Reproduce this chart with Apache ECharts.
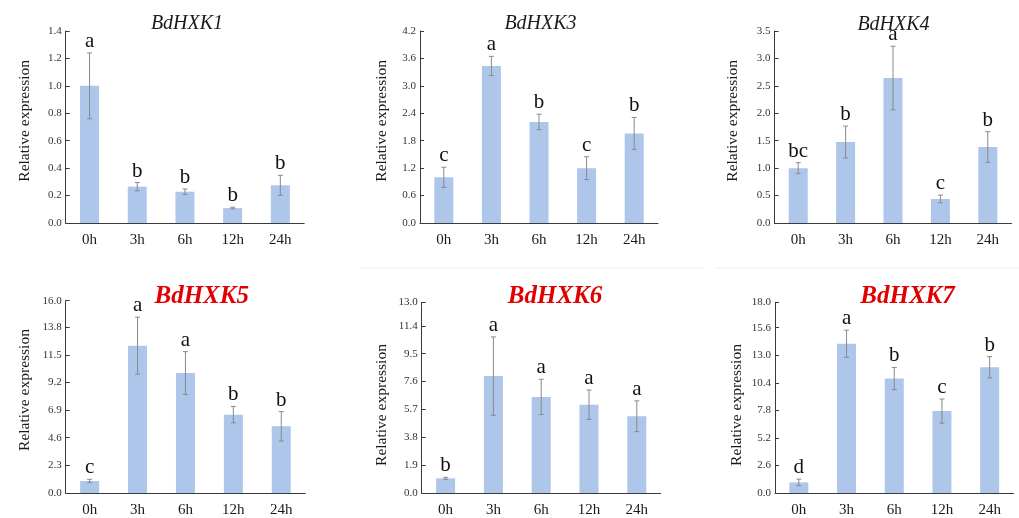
<!DOCTYPE html>
<html>
<head>
<meta charset="utf-8">
<script src="https://cdn.jsdelivr.net/npm/echarts@6/dist/echarts.min.js"></script>
<style>
  html, body { margin: 0; padding: 0; background: #ffffff; }
  #chart { width: 1019px; height: 518px; }
</style>
</head>
<body>
<div id="chart"></div>
<script>
// Sampling time points after treatment
const categories = ['0h', '3h', '6h', '12h', '24h'];
const geneNames = ['BdHXK1', 'BdHXK3', 'BdHXK4', 'BdHXK5', 'BdHXK6', 'BdHXK7'];

// Relative expression (mean), standard deviation and significance letters per gene
const hxk1Mean = [1.0, 0.265, 0.228, 0.109, 0.275];
const hxk1Err  = [0.24, 0.03, 0.02, 0.006, 0.073];
const hxk1Sig  = ['a', 'b', 'b', 'b', 'b'];

const hxk3Mean = [1.0, 3.435, 2.21, 1.2, 1.96];
const hxk3Err  = [0.22, 0.21, 0.17, 0.25, 0.35];
const hxk3Sig  = ['c', 'a', 'b', 'c', 'b'];

const hxk4Mean = [1.0, 1.476, 2.643, 0.438, 1.385];
const hxk4Err  = [0.1, 0.29, 0.58, 0.07, 0.28];
const hxk4Sig  = ['bc', 'b', 'a', 'c', 'b'];

const hxk5Mean = [1.0, 12.26, 9.98, 6.52, 5.55];
const hxk5Err  = [0.14, 2.37, 1.78, 0.68, 1.22];
const hxk5Sig  = ['c', 'a', 'a', 'b', 'b'];

const hxk6Mean = [1.0, 7.97, 6.55, 6.02, 5.23];
const hxk6Err  = [0.07, 2.67, 1.2, 1.0, 1.05];
const hxk6Sig  = ['b', 'a', 'a', 'a', 'a'];

const hxk7Mean = [1.0, 14.09, 10.8, 7.73, 11.87];
const hxk7Err  = [0.31, 1.28, 1.05, 1.14, 1.0];
const hxk7Sig  = ['d', 'a', 'b', 'c', 'b'];

// Y axis range and tick step per panel
const yMax  = [1.4, 4.2, 3.5, 16, 13, 18];
const yStep = [0.2, 0.6, 0.5, 2.3, 1.9, 2.6];

const yName = 'Relative expression';

const means = [hxk1Mean, hxk3Mean, hxk4Mean, hxk5Mean, hxk6Mean, hxk7Mean];
const errs  = [hxk1Err, hxk3Err, hxk4Err, hxk5Err, hxk6Err, hxk7Err];
const sigs  = [hxk1Sig, hxk3Sig, hxk4Sig, hxk5Sig, hxk6Sig, hxk7Sig];

// Layout of the six plot areas (pixels)
const grids = [
  { left: 65.7,  top: 31,    width: 238.5, height: 192 },
  { left: 420,   top: 31,    width: 238,   height: 192 },
  { left: 774.5, top: 31,    width: 237,   height: 192 },
  { left: 65.7,  top: 300.7, width: 239.5, height: 192.3 },
  { left: 421.7, top: 302.3, width: 239,   height: 191.4 },
  { left: 775,   top: 302.3, width: 238.5, height: 191.7 }
];
// Title centres and style
const titlePos = [[187, 24], [540.5, 24], [893.5, 24.4], [201.7, 296.2], [555, 296.2], [907.5, 296.2]];
const titleRed = [false, false, false, true, true, true];
// Y axis name centres
const yNamePos = [[25, 120.8], [381.7, 120.8], [733.3, 120.8], [25, 390], [381.7, 405], [736.7, 405]];

const SERIF = "'Times New Roman', 'Liberation Serif', 'DejaVu Serif', serif";
const AXIS_COLOR = '#3a3a3a';
const BAR_COLOR = '#adc6ea';
const ERR_COLOR = '#8a8a8a';

const option = {
  animation: false,
  backgroundColor: '#ffffff',
  grid: grids.map(g => Object.assign({ containLabel: false }, g)),
  xAxis: grids.map((g, i) => ({
    type: 'category',
    gridIndex: i,
    data: categories,
    boundaryGap: true,
    axisLine: { lineStyle: { color: AXIS_COLOR, width: 1 } },
    axisTick: { show: true, inside: true, alignWithLabel: true, length: 3, lineStyle: { color: AXIS_COLOR } },
    axisLabel: { color: '#1a1a1a', fontFamily: SERIF, fontSize: 15, margin: 10 },
    splitLine: { show: false }
  })),
  yAxis: grids.map((g, i) => ({
    type: 'value',
    gridIndex: i,
    min: 0,
    max: yMax[i],
    interval: yStep[i],
    axisLine: { show: true, lineStyle: { color: AXIS_COLOR, width: 1 } },
    axisTick: { show: true, inside: true, length: 4, lineStyle: { color: AXIS_COLOR } },
    axisLabel: {
      color: '#333333', fontFamily: SERIF, fontSize: 11, margin: 4,
      showMinLabel: true, showMaxLabel: true,
      formatter: v => v.toFixed(1)
    },
    splitLine: { show: false }
  })),
  graphic: [
    // faint separator rule between the two rows
    { type: 'line', shape: { x1: 360, y1: 268, x2: 703, y2: 268 }, style: { stroke: '#efefef', lineWidth: 1 } },
    { type: 'line', shape: { x1: 715, y1: 268, x2: 1019, y2: 268 }, style: { stroke: '#efefef', lineWidth: 1 } }
  ].concat(geneNames.map((name, i) => ({
    type: 'text',
    x: titlePos[i][0],
    y: titlePos[i][1],
    style: {
      text: name,
      align: 'center',
      verticalAlign: 'middle',
      fontFamily: SERIF,
      fontStyle: 'italic',
      fontWeight: titleRed[i] ? 'bold' : 'normal',
      fontSize: titleRed[i] ? 25 : 20,
      fill: titleRed[i] ? '#e10000' : '#1a1a1a'
    }
  }))).concat(yNamePos.map(p => ({
    type: 'text',
    x: p[0],
    y: p[1],
    rotation: Math.PI / 2,
    style: {
      text: yName,
      align: 'center',
      verticalAlign: 'middle',
      fontFamily: SERIF,
      fontSize: 15.5,
      fill: '#1a1a1a'
    }
  }))),
  series: []
};

means.forEach((m, i) => {
  option.series.push({
    type: 'bar',
    xAxisIndex: i,
    yAxisIndex: i,
    data: m,
    barWidth: 19,
    itemStyle: { color: BAR_COLOR },
    silent: true
  });
  const sig = sigs[i];
  option.series.push({
    type: 'custom',
    xAxisIndex: i,
    yAxisIndex: i,
    data: m.map((v, k) => [k, v, errs[i][k]]),
    encode: { x: 0, y: 1 },
    clip: false,
    silent: true,
    z: 3,
    renderItem: (params, api) => {
      const k = api.value(0);
      const v = api.value(1);
      const e = api.value(2);
      const top = api.coord([k, v + e]);
      const bot = api.coord([k, v - e]);
      const cap = 2.5;
      return {
        type: 'group',
        children: [
          { type: 'line', shape: { x1: top[0], y1: top[1], x2: bot[0], y2: bot[1] }, style: { stroke: ERR_COLOR, lineWidth: 1 } },
          { type: 'line', shape: { x1: top[0] - cap, y1: top[1], x2: top[0] + cap, y2: top[1] }, style: { stroke: ERR_COLOR, lineWidth: 1 } },
          { type: 'line', shape: { x1: bot[0] - cap, y1: bot[1], x2: bot[0] + cap, y2: bot[1] }, style: { stroke: ERR_COLOR, lineWidth: 1 } },
          {
            type: 'text',
            x: top[0],
            y: top[1] - 1,
            style: {
              text: sig[params.dataIndex],
              align: 'center',
              verticalAlign: 'bottom',
              fontFamily: SERIF,
              fontSize: 21,
              fill: '#111111'
            }
          }
        ]
      };
    }
  });
});

const chart = echarts.init(document.getElementById('chart'), null, { renderer: 'canvas' });
chart.setOption(option);
</script>
</body>
</html>
